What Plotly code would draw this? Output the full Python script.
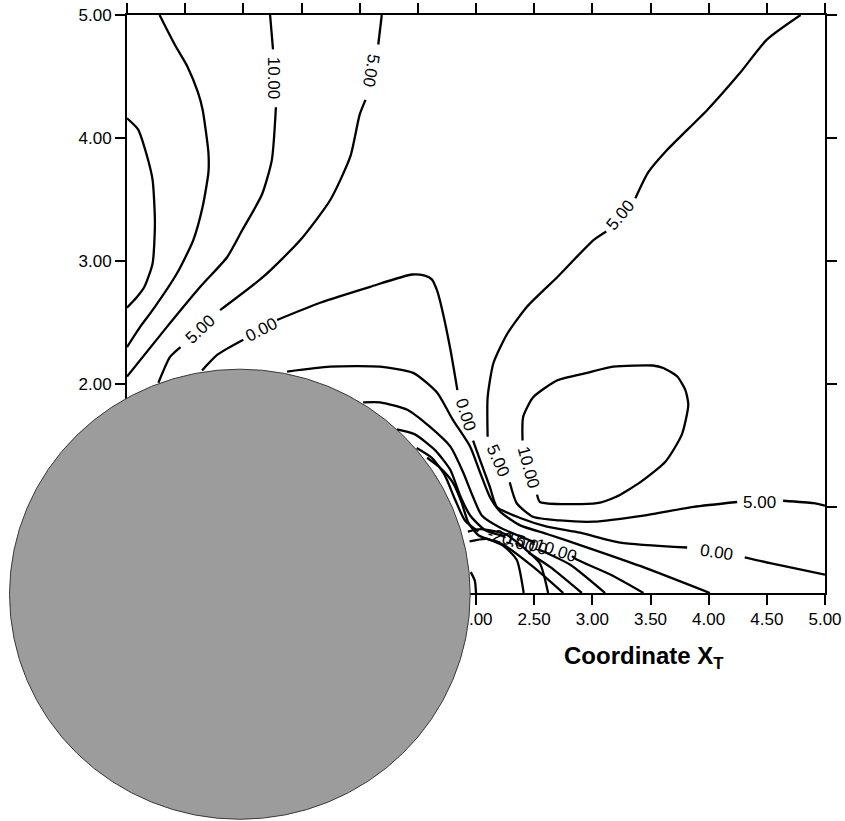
import plotly.graph_objects as go

# ---- axes -------------------------------------------------------------
X_RANGE = [-1.0, 5.0]
Y_RANGE = [0.30, 5.0]

# ---- cylinder cross-section (drawn over the field) --------------------
CYL_CENTER = (-0.03, 0.29)
CYL_RX = 1.98
CYL_RY = 1.83

# ---- contour lines (None splits a line where its label sits) ----------
c20_x = [-1.00, -0.905, -0.83, -0.78, -0.76, -0.78, -0.85, -0.92, -1.00]
c20_y = [4.16, 4.07, 3.86, 3.66, 3.31, 2.98, 2.79, 2.70, 2.62]

c15_x = [-0.72, -0.59, -0.48, -0.39, -0.35, -0.30, -0.30, -0.35, -0.43, -0.57, -0.78, -0.89, -1.00]
c15_y = [5.00, 4.76, 4.58, 4.37, 4.23, 3.88, 3.72, 3.44, 3.17, 2.90, 2.60, 2.46, 2.30]

c10_top_x = [0.23, 0.255, None, 0.28, 0.245, 0.16, -0.01, -0.14, -0.37, -0.66, -1.00]
c10_top_y = [5.00, 4.72, None, 4.25, 3.82, 3.54, 3.25, 3.03, 2.79, 2.46, 2.06]

c5_top_x = [1.19, 1.16, None, 1.05, 1.00, 0.92, 0.75, 0.49, 0.17, -0.20, None, -0.54, -0.63, -0.73]
c5_top_y = [5.00, 4.76, None, 4.31, 4.19, 3.85, 3.50, 3.17, 2.87, 2.60, None, 2.30, 2.22, 2.01]

c0_x = [-0.355, -0.22, 0.00, None, 0.29, 0.66, 1.09, 1.45, 1.56, 1.62, 1.665, 1.71, 1.78, 1.84, None,
        1.975, 2.035, 2.12, 2.18, 2.38, 2.61, 2.895, 3.24, 3.815, None, 4.31, 4.59, 5.00]
c0_y = [2.11, 2.24, 2.36, None, 2.52, 2.66, 2.79, 2.89, 2.88, 2.85, 2.76, 2.60, 2.28, 1.95, None,
        1.54, 1.38, 1.16, 1.00, 0.91, 0.84, 0.79, 0.71, 0.67, None, 0.59, 0.53, 0.45]

c5_right_x = [4.79, 4.50, 4.27, 3.99, 3.64, 3.48, 3.37, None, 3.12, 3.01, 2.70, 2.44, 2.27, 2.15, 2.10, 2.10, None,
              2.29, 2.35, 2.49, 2.72, 3.01, 3.44, 3.87, 4.245, None, 4.64, 4.90, 5.00]
c5_right_y = [5.00, 4.80, 4.53, 4.23, 3.90, 3.72, 3.51, None, 3.24, 3.17, 2.87, 2.63, 2.41, 2.17, 1.89, 1.57, None,
              1.20, 1.03, 0.92, 0.89, 0.88, 0.93, 1.00, 1.04, None, 1.05, 1.03, 1.01]

c10_loop_x = [2.525, 2.55, 3.04, 3.20, 3.41, 3.63, 3.77, 3.825, 3.80, 3.73, 3.61, 3.52, 3.18, 2.955, 2.70, 2.49, 2.405, 2.40]
c10_loop_y = [1.10, 1.04, 1.03, 1.08, 1.20, 1.37, 1.59, 1.83, 1.95, 2.06, 2.13, 2.15, 2.14, 2.09, 2.03, 1.89, 1.73, 1.54]

cm5_x = [0.376, 0.745, 1.175, 1.46, 1.665, 1.80, 1.95, 2.035, 2.12, 2.21, 2.38, 2.61, 2.895, 3.41, 4.01]
cm5_y = [2.10, 2.14, 2.14, 2.09, 1.93, 1.71, 1.49, 1.28, 1.08, 0.96, 0.85, 0.78, 0.69, 0.52, 0.30]

cm10_x = [1.03, 1.175, 1.41, 1.605, 1.78, 1.89, 1.975, 2.05, 2.21, 2.51, None, 2.825, 2.87, 3.155, 3.44]
cm10_y = [1.85, 1.85, 1.79, 1.65, 1.49, 1.28, 1.08, 0.93, 0.83, 0.71, None, 0.60, 0.57, 0.45, 0.30]

cm15_x = [1.32, 1.475, 1.65, 1.78, 1.86, 1.95, 2.08, 2.25, None, 2.55, 2.81, 3.11]
cm15_y = [1.63, 1.59, 1.46, 1.30, 1.10, 0.93, 0.81, 0.76, None, 0.65, 0.53, 0.30]

cm20_x = [1.49, 1.62, 1.73, 1.82, 1.905, 2.02, None, 2.45, 2.64, 2.91]
cm20_y = [1.48, 1.40, 1.26, 1.06, 0.89, 0.80, None, 0.63, 0.51, 0.30]

cm25_x = [1.58, 1.69, 1.80, 1.875, 1.935, 2.02, 2.24, 2.495, 2.75]
cm25_y = [1.40, 1.32, 1.20, 1.04, 0.87, 0.77, 0.69, 0.51, 0.30]

# closed pocket hugging the cylinder wall
cm30_x = [1.61, 1.645, 1.68, 1.705, 1.72, 1.705, 1.68, 1.645, 1.61]
cm30_y = [1.23, 1.25, 1.17, 1.06, 0.96, 0.94, 1.02, 1.13, 1.23]

# arcs leaving the rear wall toward the lower axis
cw1_x = [1.93, 2.04, 2.25, 2.42, 2.55, 2.62]
cw1_y = [0.80, 0.82, 0.78, 0.66, 0.54, 0.30]

cw2_x = [1.945, 2.09, 2.24, 2.35, 2.41]
cw2_y = [0.72, 0.74, 0.68, 0.57, 0.30]

cw3_x = [1.955, 1.99, 2.00]
cw3_y = [0.47, 0.40, 0.30]

# ---- contour labels ----------------------------------------------------
label_text = ["10.00", "5.00", "5.00", "0.00", "5.00", "0.00", "5.00", "10.00",
              "5.00", "0.00", "-20.00", "-15.00", "-10.00"]
label_x = [0.255, 1.10, -0.37, 0.16, 3.24, 1.91, 2.19, 2.45, 4.44, 4.07, 2.30, 2.41, 2.66]
label_y = [4.49, 4.55, 2.44, 2.44, 3.37, 1.75, 1.38, 1.32, 1.04, 0.63, 0.73, 0.71, 0.65]
label_angle = [90, 100, -43, -27, -50, 73, 66, 75, 0, 8, 18, 18, 18]

lines = [
    (c20_x, c20_y), (c15_x, c15_y), (c10_top_x, c10_top_y), (c5_top_x, c5_top_y),
    (c0_x, c0_y), (c5_right_x, c5_right_y), (c10_loop_x, c10_loop_y),
    (cm5_x, cm5_y), (cm10_x, cm10_y), (cm15_x, cm15_y), (cm20_x, cm20_y), (cm25_x, cm25_y),
    (cm30_x, cm30_y), (cw1_x, cw1_y), (cw2_x, cw2_y), (cw3_x, cw3_y),
]

FONT = "Liberation Sans, Arial, Helvetica, sans-serif"

fig = go.Figure()
for xs, ys in lines:
    fig.add_trace(go.Scatter(
        x=xs, y=ys, mode="lines", connectgaps=False,
        line=dict(color="black", width=2.3, shape="spline", smoothing=0.6),
        hoverinfo="skip", showlegend=False,
    ))

for t, x, y, a in zip(label_text, label_x, label_y, label_angle):
    fig.add_annotation(x=x, y=y, xref="x", yref="y", text=t, textangle=a,
                       showarrow=False, font=dict(family=FONT, size=17, color="black"))


def to_paper_x(v):
    return (v - X_RANGE[0]) / (X_RANGE[1] - X_RANGE[0])


def to_paper_y(v):
    return (v - Y_RANGE[0]) / (Y_RANGE[1] - Y_RANGE[0])


cx, cy = CYL_CENTER
fig.add_shape(
    type="circle", xref="paper", yref="paper", layer="above",
    x0=to_paper_x(cx - CYL_RX), x1=to_paper_x(cx + CYL_RX),
    y0=to_paper_y(cy - CYL_RY), y1=to_paper_y(cy + CYL_RY),
    fillcolor="#9c9c9c", line=dict(color="#3a3a3a", width=1),
)

fig.add_annotation(
    x=0.7407, y=-0.111, xref="paper", yref="paper", showarrow=False,
    text="<b>Coordinate X<sub>T</sub></b>", xanchor="center", yanchor="middle",
    font=dict(family=FONT, size=24, color="black"),
)

axis_common = dict(
    showgrid=False, zeroline=False, showline=True, linecolor="black", linewidth=2,
    ticks="outside", ticklen=10, tickwidth=2, tickcolor="black", mirror="allticks",
    tickformat=".2f", tickfont=dict(family=FONT, size=17, color="black"),
    automargin=False,
)

fig.update_layout(
    width=845, height=821,
    margin=dict(l=127, r=20, t=15, b=228, autoexpand=False),
    paper_bgcolor="white", plot_bgcolor="white",
    xaxis=dict(range=X_RANGE, tick0=0, dtick=0.5, **axis_common),
    yaxis=dict(range=Y_RANGE, tick0=0, dtick=1, **axis_common),
    showlegend=False,
)

fig.write_html("out.html")
